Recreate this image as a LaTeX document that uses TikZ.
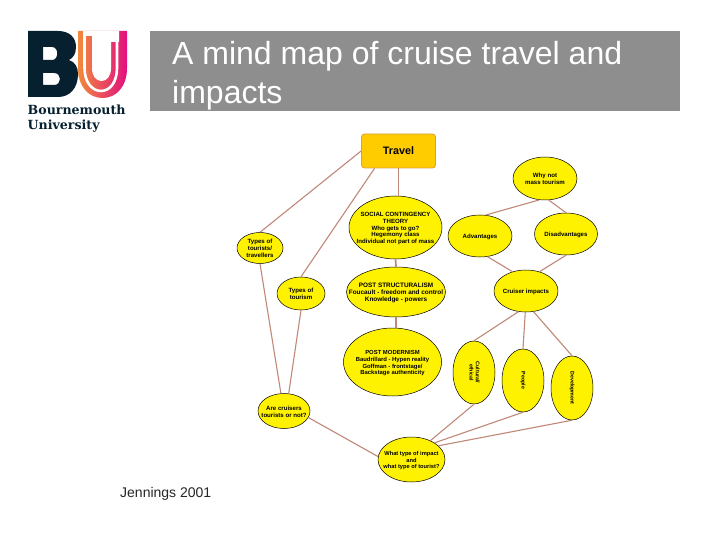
\documentclass[tikz,border=0pt]{standalone}
\usepackage{fontspec}
\setmainfont{Liberation Sans}
\newfontfamily\logofont{DejaVu Serif}
\usetikzlibrary{shapes.geometric}
\definecolor{titlegrey}{HTML}{8E8E8E}
\definecolor{linkc}{HTML}{C08878}
\definecolor{navy}{HTML}{06202F}
\definecolor{ubL}{HTML}{F08A3C}
\definecolor{ubR}{HTML}{E2107F}
\definecolor{travelc}{HTML}{FFCC00}
\definecolor{travelb}{HTML}{D9A040}
\newcommand{\btext}[1]{\smash{\makebox[0pt]{\raisebox{-2.8pt}{\begin{tabular}[c]{@{}c@{}}#1\end{tabular}}}}}
\tikzset{x=1pt,y=-1pt,
  bub/.style={ellipse,draw=black,line width=0.5pt,fill=yellow,inner sep=0pt,font=\fontsize{6.1}{6.8}\selectfont\bfseries},
  lnk/.style={draw=linkc,line width=1.1pt},
  thick lnk/.style={draw=linkc,line width=1.8pt}
}
\begin{document}
\begin{tikzpicture}
\useasboundingbox (0,0) rectangle (720,540);
\fill[white] (0,0) rectangle (720,540);
% title
\fill[titlegrey] (150,31) rectangle (680,111);
\node[anchor=north west,inner sep=0pt,align=left,text=white,font=\fontsize{32}{39.5}\selectfont] (title) at (172,41) {A mind map of cruise travel and\\impacts};
\node[anchor=west,inner sep=0pt,text=black!85,font=\fontsize{14}{16}\selectfont] (ref) at (120,494) {Jennings 2001};
% logo
\fill[navy,even odd rule] (28,31) -- (58,31) .. controls (70,31) and (76,38) .. (76,47) .. controls (76,54) and (73,58) .. (69,60) .. controls (75,62) and (78,67) .. (78,74) .. controls (78,88) and (70,97) .. (58,97) -- (28,97) -- cycle
 (43,47) -- (43,60) -- (52,60) .. controls (59,60) and (59,47) .. (52,47) -- cycle
 (43,73) -- (43,85) -- (54,85) .. controls (62,85) and (62,73) .. (54,73) -- cycle;
\shade[left color=ubL,right color=ubR] (78,31) -- (127,31) -- (127,68) .. controls (127,87) and (116,98) .. (102.5,98) .. controls (89,98) and (78,87) .. (78,68) -- cycle;
\fill[white] (92,36) -- (92,68) .. controls (92,76) and (96,81) .. (101.5,81) .. controls (107,81) and (111,76) .. (111,68) -- (111,42) -- (119,42) -- (119,31) -- (83,31) -- (83,36) -- cycle;
\draw[white,line width=2.6pt] (84.5,31) -- (84.5,68) .. controls (84.5,82) and (92,91) .. (101,91) .. controls (110,91) and (117,82) .. (117,68) -- (117,31);
\node[anchor=north west,inner sep=0pt,text=navy,align=left,font=\logofont\fontsize{12.6}{15}\selectfont\bfseries] (logo) at (27.5,104.5) {Bournemouth\\University};
% nodes
\node[draw=travelb,line width=0.8pt,fill=travelc,rounded corners=3pt,minimum width=74pt,minimum height=34pt,inner sep=0pt,font=\fontsize{10.8}{12}\selectfont\bfseries] (travel) at (398.5,151) {Travel};
\node[bub,minimum width=93pt,minimum height=63pt] (social) at (395.5,227.5) {\btext{SOCIAL CONTINGENCY\\THEORY\\Who gets to go?\\Hegemony class\\Individual not part of mass}};
\node[bub,minimum width=99pt,minimum height=50pt,font=\fontsize{6.4}{6.8}\selectfont\bfseries] (post) at (396,292) {\btext{POST STRUCTURALISM\\Foucault - freedom and control\\Knowledge - powers}};
\node[bub,minimum width=98pt,minimum height=68pt,font=\fontsize{5.9}{6.8}\selectfont\bfseries] (modern) at (392.5,362) {\btext{POST MODERNISM\\Baudrillard - Hypen reality\\Goffman - frontstage/\\Backstage authenticity}};
\node[bub,minimum width=46pt,minimum height=31pt] (tourists) at (260,248) {\btext{Types of\\tourists/\\travellers}};
\node[bub,minimum width=48pt,minimum height=33pt] (tourism) at (301,293.5) {\btext{Types of\\tourism}};
\node[bub,minimum width=52pt,minimum height=35pt] (cruisers) at (284,411) {\btext{Are cruisers\\tourists or not?}};
\node[bub,minimum width=67pt,minimum height=45pt,font=\fontsize{5.7}{6.8}\selectfont\bfseries] (what) at (411.5,459.5) {\btext{What type of impact\\and\\what type of tourist?}};
\node[bub,minimum width=64pt,minimum height=43pt] (why) at (545,178.5) {\btext{Why not\\mass tourism}};
\node[bub,minimum width=64pt,minimum height=42pt] (adv) at (480,236) {\btext{Advantages}};
\node[bub,minimum width=63pt,minimum height=42pt] (dis) at (566,234) {\btext{Disadvantages}};
\node[bub,minimum width=64pt,minimum height=42pt] (impacts) at (526,291) {\btext{Cruiser impacts}};
\node[bub,minimum width=42pt,minimum height=63pt,font=\fontsize{5.3}{6.2}\selectfont\bfseries] (cult) at (474,372.5) {\rotatebox{-90}{\begin{tabular}{@{}c@{}}Cultural/\\ethical\end{tabular}}};
\node[bub,minimum width=42pt,minimum height=63pt,font=\fontsize{5.3}{6.2}\selectfont\bfseries] (people) at (523,380.5) {\rotatebox{-90}{People}};
\node[bub,minimum width=42pt,minimum height=64pt,font=\fontsize{5.3}{6.2}\selectfont\bfseries] (dev) at (572,388) {\rotatebox{-90}{Development}};
% connectors
\draw[lnk] (travel.west) -- (tourists.north);
\draw[lnk] (travel.216) -- (tourism.north);
\draw[thick lnk] (travel.south) -- (travel.south |- social.north);
\draw[thick lnk] (social.south) -- (post.north);
\draw[thick lnk] (post.south) -- (post.south |- modern.north);
\draw[lnk] (tourists.south) -- (cruisers.100);
\draw[lnk] (tourism.south) -- (cruisers.75);
\draw[lnk] (cruisers.-15) -- (what.175);
\draw[lnk] (what.45) -- (cult.south);
\draw[lnk] (what.36) -- (people.south);
\draw[lnk] (what.27) -- (dev.south);
\draw[lnk] (why.255) -- (adv.75);
\draw[lnk] (why.280) -- (dis.north);
\draw[lnk] (adv.-70) -- (impacts.125);
\draw[lnk] (dis.south) -- (impacts.55);
\draw[lnk] (impacts.250) -- (cult.north);
\draw[lnk] (impacts.268) -- (people.north);
\draw[lnk] (impacts.-70) -- (dev.north);
\end{tikzpicture}
\end{document}
